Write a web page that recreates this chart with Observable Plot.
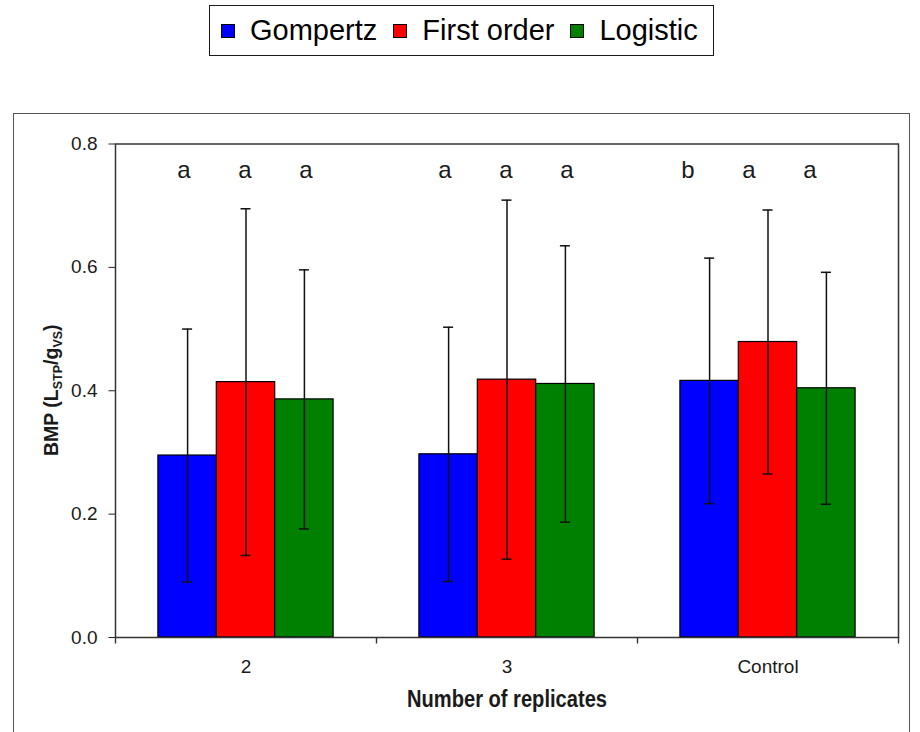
<!DOCTYPE html>
<html>
<head>
<meta charset="utf-8">
<script src="https://cdn.jsdelivr.net/npm/d3@7"></script>
<script src="https://cdn.jsdelivr.net/npm/@observablehq/plot@0.6"></script>
<style>
html, body { margin: 0; padding: 0; background: #fff; width: 920px; height: 732px; overflow: hidden; }
#legend {
  position: absolute; left: 209px; top: 5px; width: 505px; height: 51px; box-sizing: border-box;
  border: 1.5px solid #1a1a1a; display: flex; align-items: center; padding-left: 11px; white-space: nowrap;
  font-family: "Liberation Sans", Arial, sans-serif; font-size: 29px; color: #000;
}
#legend .item { display: flex; align-items: center; margin-right: 16px; white-space: nowrap; flex: none; }
#legend .sw { width: 14px; height: 14px; box-sizing: border-box; border: 1.2px solid #000; margin-right: 15px; flex: none; }
#outer { position: absolute; left: 13px; top: 113px; width: 897px; height: 700px; box-sizing: border-box; border: 1.5px solid #555; }
#chart { position: absolute; left: 15px; top: 115px; }
</style>
</head>
<body>
<div id="legend"></div>
<div id="outer"></div>
<div id="chart"></div>
<script>
// ---- data ----
const categories = ["2", "3", "Control"];
const series = ["Gompertz", "First order", "Logistic"];
const colors = ["#0000ff", "#ff0000", "#008000"];
const gompertz = [0.295, 0.297, 0.416];
const firstOrder = [0.414, 0.418, 0.479];
const logistic = [0.386, 0.411, 0.404];
const gompertzSD = [0.205, 0.206, 0.199];
const firstOrderSD = [0.281, 0.291, 0.214];
const logisticSD = [0.210, 0.224, 0.188];
const gompertzLetters = ["a", "a", "b"];
const firstOrderLetters = ["a", "a", "a"];
const logisticLetters = ["a", "a", "a"];
const yTicks = [0, 0.2, 0.4, 0.6, 0.8];
const xTitle = "Number of replicates";

const meanArrays = [gompertz, firstOrder, logistic];
const sdArrays = [gompertzSD, firstOrderSD, logisticSD];
const letterArrays = [gompertzLetters, firstOrderLetters, logisticLetters];

const rows = [];
categories.forEach((c, j) => series.forEach((s, i) => rows.push({
  cat: c, series: s, mean: meanArrays[i][j], sd: sdArrays[i][j], letter: letterArrays[i][j]
})));

// ---- legend ----
const legend = d3.select("#legend");
series.forEach((s, i) => {
  const it = legend.append("div").attr("class", "item");
  it.append("div").attr("class", "sw").style("background", colors[i]);
  it.append("span").text(s);
});

// ---- chart ----
const W = 893, H = 617, ML = 100, MR = 10, MT = 28.5, MB = 95;
const step = (W - ML - MR) / categories.length;
const barW = 58.4;
const barInset = (step - barW) / 2;
const capInset = (step - 10) / 2;
const ink = "#111";
const font = "'Liberation Sans', Arial, sans-serif";

const marks = [];
series.forEach((s, i) => {
  const d = rows.filter(r => r.series === s);
  const off = (i - 1) * barW;
  marks.push(Plot.barY(d, {x: "cat", y: "mean", fill: "series", stroke: "#000", strokeWidth: 1.2,
    insetLeft: barInset, insetRight: barInset, dx: off}));
});
series.forEach((s, i) => {
  const d = rows.filter(r => r.series === s);
  const off = (i - 1) * barW;
  marks.push(Plot.ruleX(d, {x: "cat", y1: r => r.mean - r.sd, y2: r => r.mean + r.sd, dx: off, stroke: ink, strokeWidth: 1.5}));
  marks.push(Plot.tickY(d, {x: "cat", y: r => r.mean + r.sd, dx: off, insetLeft: capInset, insetRight: capInset, stroke: ink, strokeWidth: 1.5}));
  marks.push(Plot.tickY(d, {x: "cat", y: r => r.mean - r.sd, dx: off, insetLeft: capInset, insetRight: capInset, stroke: ink, strokeWidth: 1.5}));
  marks.push(Plot.text(d.filter(r => r.cat !== "Control"), {x: "cat", text: "letter", frameAnchor: "top", lineAnchor: "bottom", dy: 34,
    dx: (i - 1) * 61 - 1, fontSize: 24, fill: "#1a1a1a"}));
  marks.push(Plot.text(d.filter(r => r.cat === "Control"), {x: "cat", text: "letter", frameAnchor: "top", lineAnchor: "bottom", dy: 34,
    dx: (i - 1) * 61 - 19, fontSize: 24, fill: "#1a1a1a"}));
});
// category boundary ticks on the x axis
marks.push(Plot.ruleX(categories, {x: d => d, y1: 0, y2: 0, dx: -step / 2, insetBottom: -6.5, stroke: "#333", strokeWidth: 1.4}));
marks.push(Plot.ruleX(categories.slice(-1), {x: d => d, y1: 0, y2: 0, dx: step / 2, insetBottom: -6.5, stroke: "#333", strokeWidth: 1.4}));
marks.push(Plot.frame({stroke: "#333", strokeWidth: 1.5}));
marks.push(Plot.text([xTitle], {frameAnchor: "bottom", lineAnchor: "bottom", dy: 69, text: d => d, fontSize: 23, fontWeight: "bold",
  fill: "#1a1a1a", fontFamily: font}));

const chart = Plot.plot({
  width: W, height: H,
  marginLeft: ML, marginRight: MR, marginTop: MT, marginBottom: MB,
  style: {fontFamily: font, fontSize: "18px", color: "#222", background: "transparent"},
  x: {domain: categories, padding: 0, tickSize: 0, tickPadding: 22, label: null},
  y: {domain: [0, 0.8], ticks: yTicks, tickFormat: d3.format(".1f"), tickSize: 6.5, tickPadding: 11.5, label: null},
  color: {domain: series, range: colors},
  marks
});
document.getElementById("chart").appendChild(chart);

const svg = d3.select(chart.tagName.toLowerCase() === "svg" ? chart : chart.querySelector("svg"));
svg.selectAll('[aria-label^="x-axis"]').attr("font-size", 19);
svg.selectAll('[aria-label^="x-axis"] text').style("font-size", "19px").attr("fill", "#1a1a1a");
svg.selectAll('[aria-label^="y-axis"]').attr("font-size", 19);
svg.selectAll('[aria-label^="y-axis"] text').style("font-size", "19px").attr("fill", "#1a1a1a");

// condensed axis title (the reference uses a narrow face)
svg.selectAll("text").filter(function() { return this.textContent === xTitle; })
  .attr("textLength", 200).attr("lengthAdjust", "spacingAndGlyphs");

// y-axis title with subscripts
const yt = svg.append("text")
  .attr("transform", `translate(${ML - 57},${(MT + H - MB) / 2}) rotate(-90)`)
  .attr("text-anchor", "middle")
  .attr("font-weight", "bold")
  .attr("font-size", 19.5)
  .attr("fill", "#1a1a1a")
  .attr("font-family", font);
yt.append("tspan").text("BMP (L");
yt.append("tspan").attr("font-size", 12.5).attr("dy", 4).text("STP");
yt.append("tspan").attr("dy", -4).text("/g");
yt.append("tspan").attr("font-size", 12.5).attr("dy", 4).text("VS");
yt.append("tspan").attr("dy", -4).text(")");
</script>
</body>
</html>
